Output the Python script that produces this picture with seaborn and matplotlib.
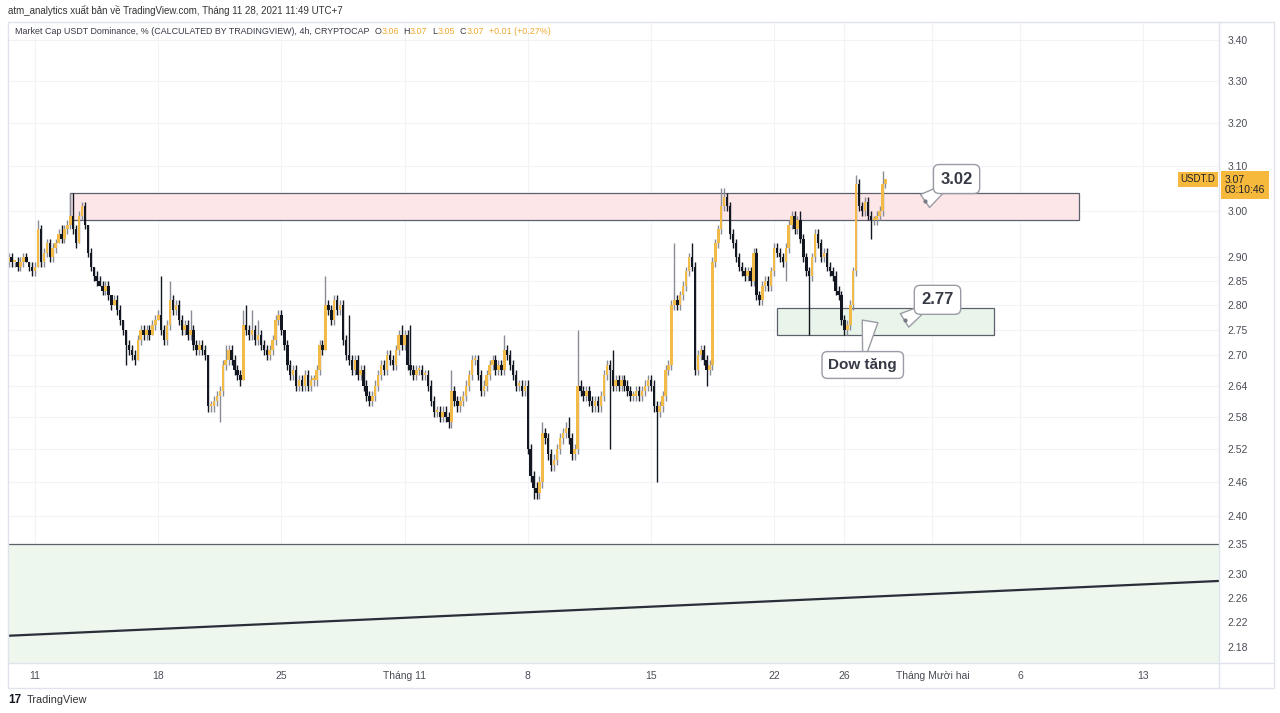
import numpy as np
import pandas as pd
import matplotlib
matplotlib.use("Agg")
import matplotlib.pyplot as plt
import matplotlib.dates as mdates
import matplotlib.transforms as mtransforms
from matplotlib.patches import Rectangle
from matplotlib.lines import Line2D
import seaborn as sns

# ---------------- data ----------------
start_time = "2021-10-09 12:00"
bar_freq = "4h"
first_open = 2.89
close = [
    2.90, 2.89, 2.89, 2.88, 2.89, 2.90, 2.89, 2.88, 2.87, 2.88,
    2.96, 2.89, 2.91, 2.93, 2.90, 2.92, 2.93, 2.95, 2.94, 2.96,
    2.97, 2.99, 2.96, 2.93, 2.99, 3.01, 2.97, 2.91, 2.88, 2.86,
    2.85, 2.84, 2.83, 2.84, 2.82, 2.80, 2.81, 2.79, 2.77, 2.75,
    2.72, 2.71, 2.70, 2.69, 2.73, 2.75, 2.74, 2.75, 2.74, 2.76,
    2.77, 2.78, 2.75, 2.73, 2.76, 2.81, 2.79, 2.80, 2.77, 2.75,
    2.76, 2.74, 2.75, 2.72, 2.71, 2.72, 2.71, 2.70, 2.60, 2.60,
    2.61, 2.62, 2.63, 2.68, 2.69, 2.71, 2.69, 2.67, 2.66, 2.65,
    2.76, 2.75, 2.74, 2.75, 2.73, 2.74, 2.72, 2.71, 2.70, 2.71,
    2.73, 2.77, 2.78, 2.75, 2.72, 2.68, 2.66, 2.67, 2.64, 2.65,
    2.64, 2.66, 2.64, 2.65, 2.65, 2.67, 2.72, 2.71, 2.80, 2.79,
    2.77, 2.81, 2.79, 2.80, 2.73, 2.70, 2.69, 2.67, 2.69, 2.66,
    2.67, 2.64, 2.62, 2.61, 2.62, 2.64, 2.66, 2.68, 2.67, 2.70,
    2.69, 2.68, 2.71, 2.74, 2.72, 2.74, 2.68, 2.67, 2.66, 2.67,
    2.67, 2.66, 2.66, 2.64, 2.61, 2.59, 2.59, 2.58, 2.59, 2.58,
    2.57, 2.63, 2.61, 2.60, 2.61, 2.62, 2.64, 2.66, 2.69, 2.69,
    2.66, 2.63, 2.64, 2.66, 2.68, 2.69, 2.67, 2.68, 2.67, 2.71,
    2.70, 2.68, 2.66, 2.64, 2.64, 2.63, 2.64, 2.52, 2.47, 2.45,
    2.44, 2.46, 2.55, 2.54, 2.51, 2.49, 2.50, 2.52, 2.54, 2.55,
    2.56, 2.54, 2.51, 2.52, 2.64, 2.63, 2.62, 2.63, 2.61, 2.60,
    2.61, 2.60, 2.62, 2.66, 2.68, 2.67, 2.64, 2.65, 2.64, 2.65,
    2.64, 2.63, 2.62, 2.62, 2.63, 2.62, 2.63, 2.64, 2.65, 2.64,
    2.60, 2.59, 2.60, 2.62, 2.67, 2.68, 2.80, 2.81, 2.80, 2.82,
    2.84, 2.87, 2.90, 2.88, 2.67, 2.70, 2.71, 2.69, 2.67, 2.68,
    2.89, 2.93, 2.96, 3.01, 3.03, 3.01, 2.95, 2.93, 2.90, 2.88,
    2.87, 2.86, 2.87, 2.85, 2.91, 2.82, 2.81, 2.84, 2.85, 2.84,
    2.87, 2.92, 2.91, 2.90, 2.89, 2.92, 2.97, 2.99, 2.96, 2.98,
    2.94, 2.90, 2.87, 2.86, 2.90, 2.95, 2.93, 2.90, 2.91, 2.88,
    2.87, 2.86, 2.83, 2.82, 2.77, 2.75, 2.76, 2.80, 2.87, 3.06,
    3.01, 3.00, 3.02, 2.99, 2.98, 2.98, 2.99, 3.00, 3.06, 3.07,
]
# wick lengths above/below the body, in hundredths of a percent point
upper_wick = [
    1, 1, 0, 1, 1, 1, 1, 0, 1, 1,
    2, 1, 1, 1, 1, 1, 1, 1, 2, 1,
    1, 5, 5, 1, 1, 1, 1, 0, 1, 0,
    1, 1, 1, 1, 1, 0, 1, 1, 1, 0,
    0, 1, 1, 1, 1, 1, 1, 1, 1, 1,
    1, 1, 8, 1, 1, 4, 1, 1, 1, 1,
    1, 1, 4, 1, 1, 1, 1, 1, 0, 1,
    1, 1, 1, 1, 3, 1, 1, 1, 1, 1,
    3, 4, 1, 4, 1, 3, 1, 1, 1, 1,
    1, 1, 1, 1, 0, 1, 1, 1, 1, 1,
    1, 1, 1, 1, 1, 1, 1, 1, 6, 1,
    1, 1, 1, 1, 1, 1, 8, 1, 1, 1,
    1, 1, 1, 1, 1, 1, 1, 1, 1, 1,
    1, 1, 1, 1, 2, 1, 1, 8, 1, 1,
    1, 1, 1, 1, 1, 1, 1, 1, 1, 1,
    1, 4, 1, 1, 1, 1, 1, 1, 1, 1,
    1, 1, 1, 1, 1, 1, 1, 1, 1, 3,
    1, 1, 1, 1, 1, 1, 1, 1, 1, 1,
    1, 1, 2, 1, 1, 1, 1, 1, 1, 1,
    1, 2, 1, 1, 11, 1, 1, 1, 1, 1,
    1, 1, 1, 1, 1, 1, 4, 1, 1, 1,
    1, 1, 1, 1, 1, 1, 1, 1, 1, 1,
    1, 1, 1, 1, 1, 1, 1, 12, 1, 1,
    1, 1, 1, 3, 1, 1, 1, 1, 1, 1,
    1, 1, 1, 4, 2, 1, 1, 1, 1, 1,
    1, 1, 1, 1, 1, 1, 1, 1, 1, 1,
    1, 1, 1, 1, 1, 1, 1, 1, 1, 1,
    2, 1, 1, 1, 1, 1, 1, 1, 1, 1,
    1, 1, 1, 1, 1, 1, 1, 1, 1, 2,
    1, 1, 1, 1, 1, 1, 1, 1, 3, 0,
]
lower_wick = [
    1, 1, 1, 1, 1, 1, 0, 1, 1, 1,
    0, 1, 1, 1, 1, 1, 1, 0, 1, 1,
    1, 1, 1, 1, 0, 1, 1, 1, 1, 1,
    1, 0, 1, 1, 1, 1, 0, 1, 1, 1,
    4, 1, 1, 1, 0, 1, 1, 1, 1, 0,
    1, 0, 1, 1, 1, 1, 1, 1, 1, 1,
    1, 1, 1, 1, 1, 1, 1, 1, 1, 1,
    1, 1, 5, 1, 1, 1, 1, 1, 1, 1,
    0, 1, 1, 1, 1, 1, 1, 1, 1, 1,
    1, 1, 1, 1, 1, 1, 1, 1, 1, 1,
    1, 1, 1, 1, 1, 1, 1, 1, 0, 1,
    1, 1, 1, 1, 1, 1, 1, 1, 1, 1,
    1, 1, 1, 1, 1, 1, 1, 1, 1, 1,
    1, 1, 1, 1, 1, 1, 1, 1, 1, 1,
    1, 1, 1, 1, 1, 1, 1, 1, 1, 1,
    1, 1, 1, 1, 1, 1, 1, 1, 1, 1,
    1, 1, 1, 1, 1, 1, 1, 1, 1, 1,
    1, 1, 1, 1, 1, 1, 1, 1, 1, 2,
    1, 1, 1, 1, 1, 1, 1, 1, 1, 1,
    1, 1, 1, 1, 1, 1, 1, 1, 1, 1,
    1, 1, 1, 1, 1, 15, 1, 1, 1, 1,
    1, 1, 1, 1, 1, 1, 1, 1, 1, 1,
    1, 13, 1, 1, 1, 1, 1, 1, 1, 1,
    1, 1, 1, 1, 1, 1, 1, 1, 3, 1,
    1, 1, 1, 1, 1, 1, 1, 1, 1, 1,
    1, 1, 1, 1, 1, 1, 1, 1, 1, 1,
    1, 1, 1, 1, 1, 4, 1, 1, 1, 1,
    1, 1, 1, 12, 1, 1, 1, 1, 1, 1,
    1, 1, 1, 1, 1, 1, 1, 1, 1, 1,
    1, 1, 1, 1, 4, 1, 1, 1, 1, 1,
]

# zones and trend line
resist_zone = ("2021-10-13 00:00", "2021-12-09 08:00", 2.98, 3.04)
support_zone = ("2021-11-22 04:00", "2021-12-04 12:00", 2.74, 2.795)
base_zone_top = 2.35
trend_times = ["2021-10-09 11:00", "2021-12-17 07:00"]
trend_values = [2.198, 2.288]

# axes
x_tick_dates = ["2021-10-11", "2021-10-18", "2021-10-25", "2021-11-01", "2021-11-08",
                "2021-11-15", "2021-11-22", "2021-11-26", "2021-12-01", "2021-12-06",
                "2021-12-13"]
x_tick_labels = ["11", "18", "25", "Tháng 11", "8", "15", "22", "26",
                 "Tháng Mười hai", "6", "13"]
y_ticks = [3.40, 3.30, 3.20, 3.10, 3.00, 2.90, 2.85, 2.80, 2.75, 2.70, 2.64,
           2.58, 2.52, 2.46, 2.40, 2.35, 2.30, 2.26, 2.22, 2.18]
x_range = ("2021-10-09 11:00", "2021-12-17 07:00")
y_range = (2.1546, 3.4452)

last_price = 3.07
countdown = "03:10:46"
header_user = "atm_analytics xuất bản về TradingView.com, Tháng 11 28, 2021 11:49 UTC+7"
legend_parts = [("Market Cap USDT Dominance, % (CALCULATED BY TRADINGVIEW), 4h, CRYPTOCAP  ", "dark"),
                ("O", "dark"), ("3.06", "up"), ("  H", "dark"), ("3.07", "up"),
                ("  L", "dark"), ("3.05", "up"), ("  C", "dark"), ("3.07", "up"),
                ("  +0.01 (+0.27%)", "up")]

# ---------------- style ----------------
sns.set_theme(style="white")
plt.rcParams["font.family"] = ["Liberation Sans", "DejaVu Sans"]

UP = "#f2bb48"
DOWN = "#131722"
UP_WICK = "#8a8d96"
DOWN_WICK = "#131722"
TXT = "#4a4d57"
FRAME = "#e0e3eb"
GRID = "#f2f3f7"

W, H = 1280, 713
fig = plt.figure(figsize=(W / 100, H / 100), dpi=100)
fig.patch.set_facecolor("white")
L, R, T, B = 8, 1219, 22, 663
ax = fig.add_axes([L / W, 1 - B / H, (R - L) / W, (B - T) / H])
ax.set_facecolor("white")

times = pd.date_range(start_time, periods=len(close), freq=bar_freq)
xs = mdates.date2num(times.to_pydatetime())
c = np.array(close)
o = np.concatenate([[first_open], c[:-1]])
hi = np.maximum(o, c) + np.array(upper_wick) / 100.0
lo = np.minimum(o, c) - np.array(lower_wick) / 100.0
up = c >= o

ax.set_yscale("log")
ax.set_ylim(*y_range)
xr = mdates.date2num(pd.to_datetime(list(x_range)).to_pydatetime())
ax.set_xlim(xr[0], xr[1])

# zones
z0 = mdates.date2num(pd.to_datetime([resist_zone[0], resist_zone[1]]).to_pydatetime())
ax.add_patch(Rectangle((z0[0], resist_zone[2]), z0[1] - z0[0], resist_zone[3] - resist_zone[2],
                       facecolor="#fde6e8", edgecolor="#5d606b", lw=0.9, zorder=1))
z1 = mdates.date2num(pd.to_datetime([support_zone[0], support_zone[1]]).to_pydatetime())
ax.add_patch(Rectangle((z1[0], support_zone[2]), z1[1] - z1[0], support_zone[3] - support_zone[2],
                       facecolor="#e9f5ea", edgecolor="#5d606b", lw=0.9, zorder=1))
ax.add_patch(Rectangle((xr[0], y_range[0]), xr[1] - xr[0], base_zone_top - y_range[0],
                       facecolor="#edf7ee", edgecolor="none", zorder=1))
ax.plot([xr[0], xr[1]], [base_zone_top, base_zone_top], color="#5d606b", lw=0.9, zorder=2)

# trend line
tx = mdates.date2num(pd.to_datetime(trend_times).to_pydatetime())
sns.lineplot(x=tx, y=trend_values, ax=ax, color="#2a2e39", linewidth=1.6, zorder=3)

# candles
wcols = np.where(up, UP_WICK, DOWN_WICK)
ax.vlines(xs, lo, hi, colors=wcols, linewidth=1.0, zorder=4)
body_bottom = np.minimum(o, c)
body_h = np.maximum(np.abs(c - o), 0.004)
ax.bar(xs, body_h, bottom=body_bottom, width=0.14,
       color=np.where(up, UP, DOWN), edgecolor="none", zorder=5)

# grid / ticks
xt = mdates.date2num(pd.to_datetime(x_tick_dates).to_pydatetime())
ax.set_xticks(xt)
ax.set_xticklabels(x_tick_labels)
ax.set_yticks(y_ticks)
ax.set_yticklabels([f"{v:.2f}" for v in y_ticks])
ax.yaxis.set_minor_locator(matplotlib.ticker.NullLocator())
ax.yaxis.tick_right()
ax.tick_params(axis="y", length=0, pad=6, labelsize=7.5, labelcolor=TXT)
ax.tick_params(axis="x", length=0, pad=6, labelsize=7.5, labelcolor=TXT)
ax.grid(True, color=GRID, lw=0.8, zorder=0)
ax.set_axisbelow(True)
for s in ax.spines.values():
    s.set_visible(False)

# callouts: wedge tail (wide at box, narrow at target) + rounded text box
def dnum(s):
    return mdates.date2num(pd.Timestamp(s).to_pydatetime())

box = dict(boxstyle="round,pad=0.42,rounding_size=0.35", fc="white", ec="#9a9ca5", lw=1.0)
wedge = dict(arrowstyle="wedge,tail_width=0.95,shrink_factor=0.5", fc="white", ec="#9a9ca5",
             lw=1.0, shrinkA=0, shrinkB=0)

def callout(label, target, anchor, size):
    tgt = (dnum(target[0]), target[1])
    anc = (dnum(anchor[0]), anchor[1])
    ax.annotate("", xy=anc, xytext=tgt, arrowprops=wedge, zorder=7)
    ax.text(anc[0], anc[1], label, fontsize=size, fontweight="bold", color="#363a45",
            ha="center", va="center", bbox=box, zorder=8)

callout("3.02", ("2021-11-30 14:00", 3.022), ("2021-12-02 09:00", 3.071), 12)
callout("2.77", ("2021-11-29 10:00", 2.769), ("2021-12-01 07:00", 2.811), 12)
callout("Dow tăng", ("2021-11-27 11:00", 2.767), ("2021-11-27 01:00", 2.680), 11)
ax.plot([dnum("2021-11-30 14:00"), dnum("2021-11-29 10:00")], [3.022, 2.769], ls="none",
        marker="o", ms=2, color="#787b86", zorder=9)

# price labels on the scale
blend = mtransforms.blended_transform_factory(fig.transFigure, ax.transData)
ax.text(1198 / W, last_price, "USDT.D", transform=blend, ha="center", va="center",
        fontsize=7, color="#1e222d",
        bbox=dict(boxstyle="square,pad=0.3", fc="#f6b93b", ec="none"), zorder=10, clip_on=False)
ax.text(1225 / W, last_price * 1.0035, f"{last_price:.2f}\n{countdown}", transform=blend, ha="left",
        va="top", fontsize=7.5, color="#1e222d", linespacing=1.1,
        bbox=dict(boxstyle="square,pad=0.35", fc="#f6b93b", ec="none"), zorder=10, clip_on=False)

# frame lines
def fline(x0, y0, x1, y1):
    fig.add_artist(Line2D([x0 / W, x1 / W], [1 - y0 / H, 1 - y1 / H], color=FRAME, lw=1.0))

fline(L, T, 1274, T)
fline(L, T, L, 688)
fline(L, 688, 1274, 688)
fline(1274, T, 1274, 688)
fline(R, T, R, 688)
fline(L, B, 1274, B)

# headers
fig.text(8 / W, 1 - 10 / H, header_user, fontsize=7.0, color="#333333", va="center")
renderer = fig.canvas.get_renderer()
xpos = 15
for txt, kind in legend_parts:
    t = fig.text(xpos / W, 1 - 32 / H, txt, fontsize=6.4, va="center",
                 color="#363a45" if kind == "dark" else "#f0a92e")
    xpos += t.get_window_extent(renderer).width
fig.text(8 / W, 1 - 700 / H, "17", fontsize=8.5, fontweight="bold", color="#131722", va="center")
fig.text(27 / W, 1 - 700 / H, "TradingView", fontsize=7.8, color="#333333", va="center")

fig.savefig("out.png", dpi=100, facecolor="white")
